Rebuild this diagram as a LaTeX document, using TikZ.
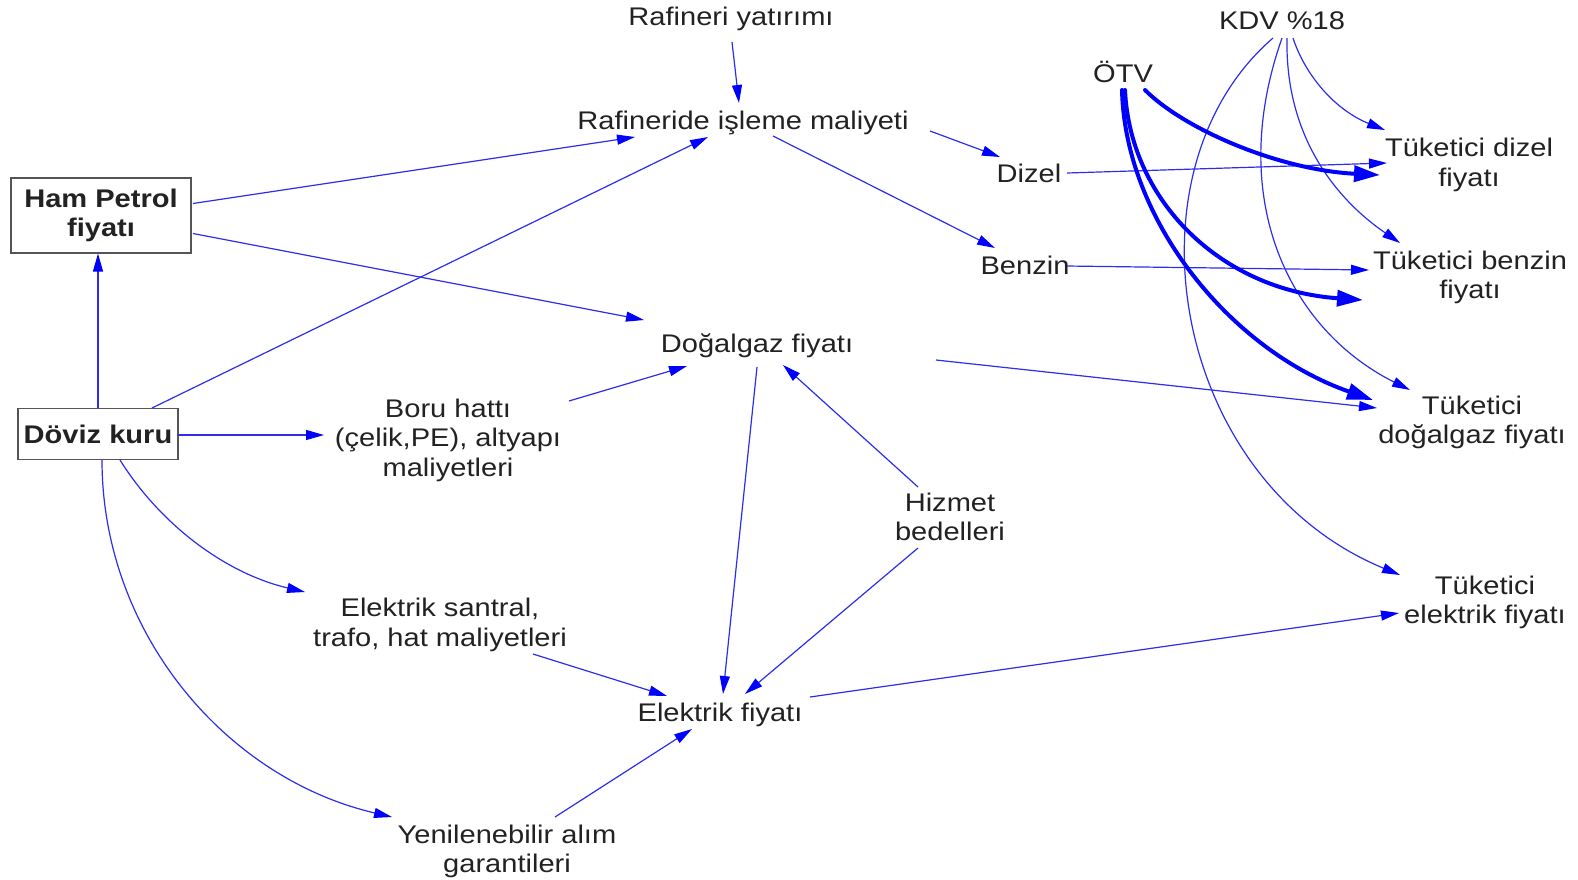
\documentclass[tikz,border=0pt]{standalone}
\usepackage{fontspec}
\setmainfont{Liberation Sans}[FakeStretch=1.14]
\usetikzlibrary{arrows.meta,calc}
\definecolor{ln}{RGB}{45,45,235}
\definecolor{txt}{RGB}{34,34,34}
\definecolor{bx}{RGB}{85,85,85}
\begin{document}
\begin{tikzpicture}[x=1pt,y=-1pt,
  lbl/.style={font=\fontsize{25.5}{29.5}\selectfont, text=txt, align=center, inner sep=0pt},
  boxed/.style={lbl, font=\fontsize{25.5}{29.5}\selectfont\bfseries, draw=bx, line width=1.5pt, fill=white},
  arr/.style={draw=ln, line width=1.2pt, -{Triangle[length=18pt,width=10pt,color=blue]}},
  tarr/.style={draw=blue, line width=4pt, line cap=round, -{Triangle[length=26pt,width=16pt]}},
]
\useasboundingbox (0,0) rectangle (1578,879);
\fill[white] (0,0) rectangle (1578,879);

\node[lbl] (ry) at (731,19) {Rafineri yatırımı};
\node[lbl] (raf) at (743,123) {Rafineride işleme maliyeti};
\node[boxed, minimum width=180pt, minimum height=75pt] (hp) at (101,215.5) {Ham Petrol\\fiyatı};
\node[boxed, minimum width=160pt, minimum height=51pt] (dk) at (98,434) {Döviz kuru};
\node[lbl] (dz) at (1029,173) {Dizel};
\node[lbl] (bz) at (1025,265) {Benzin};
\node[lbl] (dg) at (757,346) {Doğalgaz fiyatı};
\node[lbl] (boru) at (448,440) {Boru hattı\\(çelik,PE), altyapı\\maliyetleri};
\node[lbl] (hz) at (950,517) {Hizmet\\bedelleri};
\node[lbl] (es) at (440,625) {Elektrik santral,\\trafo, hat maliyetleri};
\node[lbl] (ef) at (720,715) {Elektrik fiyatı};
\node[lbl] (yn) at (507,851.5) {Yenilenebilir alım\\garantileri};
\node[lbl] (kdv) at (1282,21) {KDV \%18};
\node[lbl] (otv) at (1123,72) {ÖTV};
\node[lbl] (td) at (1469,165) {Tüketici dizel\\fiyatı};
\node[lbl] (tb) at (1470,277.5) {Tüketici benzin\\fiyatı};
\node[lbl] (tdg) at (1472,422.5) {Tüketici\\doğalgaz fiyatı};
\node[lbl] (tel) at (1485,602.5) {Tüketici\\elektrik fiyatı};

\draw[arr] ($(ry)+(1,23)$) -- ($(raf)+(-4,-20)$);
\draw[arr] ($(hp)+(92,-12)$) -- ($(raf)+(-108,14)$);
\draw[arr] ($(dk)+(54,-26)$) -- ($(raf)+(-35,14)$);
\draw[arr] ($(hp)+(92,18)$) -- ($(dg)+(-113,-26)$);
\draw[arr] ($(raf)+(187,8)$) -- ($(dz)+(-29,-16)$);
\draw[arr] ($(raf)+(30,13)$) -- ($(bz)+(-30,-17)$);
\draw[arr] ($(dk)+(0,-26)$) -- ($(hp)+(-3,38)$);
\draw[arr] ($(dk)+(80,1)$) -- ($(boru)+(-124,-5)$);
\draw[arr] ($(boru)+(121,-39)$) -- ($(dg)+(-70,20)$);
\draw[arr] ($(dk)+(22,26)$) .. controls +(42,67) and +(-77,-18) .. ($(es)+(-135,-33)$);
\draw[arr] ($(dk)+(4,26)$) .. controls +(0,172) and +(-167,-39) .. ($(yn)+(-115,-34.5)$);
\draw[arr] ($(dg)+(0,21)$) -- ($(ef)+(3,-21)$);
\draw[arr] ($(hz)+(-32,-30)$) -- ($(dg)+(26,19)$);
\draw[arr] ($(hz)+(-32,31)$) -- ($(ef)+(25,-21)$);
\draw[arr] ($(es)+(93,29)$) -- ($(ef)+(-53,-19)$);
\draw[arr] ($(yn)+(48,-34.5)$) -- ($(ef)+(-28,14)$);
\draw[arr] ($(ef)+(90,-18)$) -- ($(tel)+(-86,10.5)$);
\draw[arr] ($(dg)+(179,14)$) -- ($(tdg)+(-95,-14.5)$);
\draw[arr] ($(dz)+(38,0)$) -- ($(td)+(-82,-2)$);
\draw[arr] ($(bz)+(42,1)$) -- ($(tb)+(-101,-7.5)$);

\draw[arr] ($(kdv)+(11,17)$) .. controls +(12,37) and +(-50,-20) .. ($(td)+(-84,-35)$);
\draw[arr] ($(kdv)+(5,17)$) .. controls +(-2,92) and +(-70,-48) .. ($(tb)+(-70,-34.5)$);
\draw[arr] ($(kdv)+(0,17)$) .. controls +(-57,162) and +(-120,-60) .. ($(tdg)+(-62,-32.5)$);
\draw[arr] ($(kdv)+(-9,17)$) .. controls +(-153,132) and +(-230,-95) .. ($(tel)+(-85,-27.5)$);

\draw[tarr] ($(otv)+(22,18)$) .. controls +(40,40) and +(-100,-5) .. ($(td)+(-89,10)$);
\draw[tarr] ($(otv)+(2,18)$) .. controls +(5,110) and +(-143,-10) .. ($(tb)+(-107,22.5)$);
\draw[tarr] ($(otv)+(-1,18)$) .. controls +(3,130) and +(-143,-50) .. ($(tdg)+(-99,-22.5)$);
\end{tikzpicture}
\end{document}
